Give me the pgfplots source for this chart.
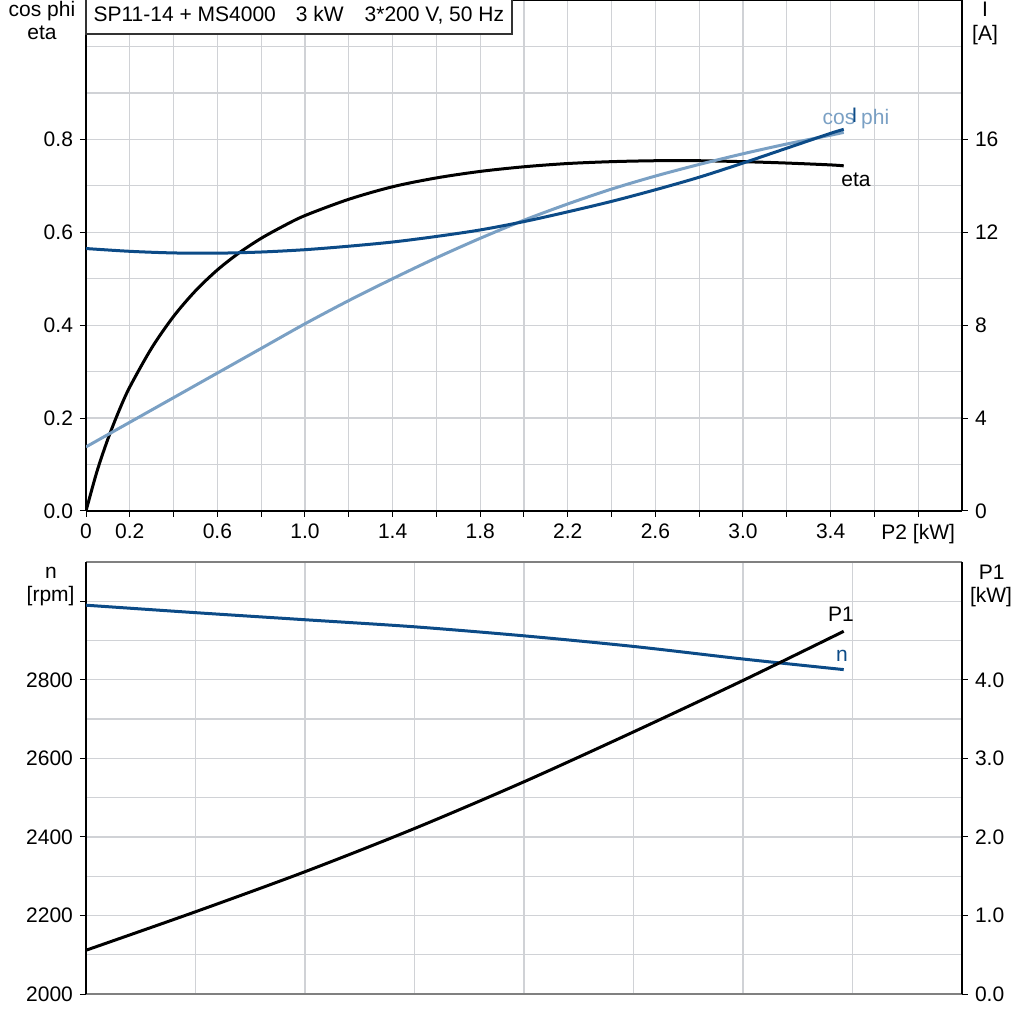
\documentclass[border=0pt]{standalone}
\usepackage{fontspec}
\setmainfont{Liberation Sans}
\usepackage{pgfplots}
\pgfplotsset{compat=1.18}
\definecolor{dblue}{RGB}{12,75,135}
\definecolor{lblue}{RGB}{122,160,196}
\definecolor{gridc}{RGB}{208,210,214}
\definecolor{frameg}{RGB}{128,128,128}
\newcommand{\lf}{\fontsize{10.5}{12}\selectfont}

\pgfplotstableread{
p2 eta
0 0
0.05 0.085
0.1 0.155
0.15 0.215
0.2 0.267
0.3 0.351
0.4 0.419
0.5 0.474
0.6 0.519
0.7 0.556
0.8 0.587
0.9 0.613
1.0 0.636
1.2 0.671
1.4 0.698
1.6 0.717
1.8 0.731
2.0 0.741
2.2 0.748
2.4 0.752
2.6 0.754
2.8 0.754
3.0 0.752
3.2 0.749
3.4 0.745
3.46 0.743
}\etatab

\pgfplotstableread{
p2 cosphi
0 0.138
0.2 0.191
0.4 0.244
0.6 0.297
0.8 0.350
1.0 0.403
1.2 0.453
1.4 0.500
1.6 0.545
1.8 0.587
2.0 0.626
2.2 0.661
2.4 0.693
2.6 0.721
2.8 0.746
3.0 0.769
3.2 0.790
3.4 0.809
3.46 0.815
}\costab

\pgfplotstableread{
p2 I
0 11.30
0.2 11.18
0.4 11.11
0.6 11.10
0.8 11.15
1.0 11.25
1.2 11.40
1.4 11.58
1.6 11.82
1.8 12.10
2.0 12.46
2.2 12.88
2.4 13.33
2.6 13.83
2.8 14.37
3.0 14.98
3.2 15.62
3.4 16.26
3.46 16.43
}\itab

\pgfplotstableread{
p2 n
0 2990
0.5 2971
1.0 2953
1.5 2935
2.0 2912
2.5 2885
3.0 2853
3.46 2826
}\ntab

\pgfplotstableread{
p2 P1
0 0.557
0.5 1.047
1.0 1.557
1.5 2.107
2.0 2.702
2.5 3.337
3.0 3.992
3.46 4.618
}\ptab

\begin{document}
\begin{tikzpicture}
\useasboundingbox (0,0) rectangle (512pt,512pt);
\pgfplotsset{
  common/.style={scale only axis, width=438pt, xmin=0, xmax=4,
    tick label style={font=\lf},
    /pgf/number format/assume math mode=true,
    major tick length=3pt, minor tick length=0pt, tick align=outside,
    tick style={black, line width=0.5pt},
    every outer x axis line/.append style={-},
    every outer y axis line/.append style={-},
  },
  fmt1/.style={yticklabel style={/pgf/number format/fixed, /pgf/number format/fixed zerofill, /pgf/number format/precision=1}},
}
% ---------- top panel ----------
\begin{axis}[common, at={(43pt,256.5pt)}, anchor=south west, height=255.5pt,
  ymin=0, ymax=1.1,
  separate axis lines,
  x axis line style={black, line width=1.3pt},
  y axis line style={black, line width=1.3pt},
  xtick={0,0.2,0.4,0.6,0.8,1.0,1.2,1.4,1.6,1.8,2.0,2.2,2.4,2.6,2.8,3.0,3.2,3.4,3.6,3.8},
  xticklabels={0,0.2,,0.6,,1.0,,1.4,,1.8,,2.2,,2.6,,3.0,,3.4,,P2 [kW]},
  ytick={0,0.2,0.4,0.6,0.8}, fmt1,
  minor ytick={0.1,0.3,0.5,0.7,0.9,1.0},
  grid=both,
  major grid style={gridc, line width=0.6pt},
  minor grid style={gridc, line width=0.6pt},
  xtick pos=bottom, ytick pos=left]
\addplot[black, line width=1.5pt, smooth] table[x=p2, y=eta] {\etatab};
\addplot[lblue, line width=1.5pt, smooth] table[x=p2, y=cosphi] {\costab};
\end{axis}
\begin{axis}[common, at={(43pt,256.5pt)}, anchor=south west, height=255.5pt,
  ymin=0, ymax=22,
  axis x line=none, axis y line*=right,
  y axis line style={-, black, line width=1.3pt},
  ytick={0,4,8,12,16}]
\addplot[dblue, line width=1.5pt, smooth] table[x=p2, y=I] {\itab};
\end{axis}
% ---------- bottom panel ----------
\begin{axis}[common, at={(43pt,15pt)}, anchor=south west, height=216pt,
  ymin=2000, ymax=3100,
  separate axis lines,
  x axis line style={frameg, line width=1.3pt},
  y axis line style={black, line width=1.3pt},
  xtick={0,0.5,1.0,1.5,2.0,2.5,3.0,3.5}, xticklabels={},
  xtick style={draw=none},
  ytick={2000,2200,2400,2600,2800,3000},
  yticklabels={2000,2200,2400,2600,2800,{}},
  minor ytick={2100,2300,2500,2700,2900},
  grid=both,
  major grid style={gridc, line width=0.6pt},
  minor grid style={gridc, line width=0.6pt},
  ytick pos=left]
\addplot[dblue, line width=1.5pt, smooth] table[x=p2, y=n] {\ntab};
\end{axis}
\begin{axis}[common, at={(43pt,15pt)}, anchor=south west, height=216pt,
  ymin=0, ymax=5.5,
  axis x line=none, axis y line*=right,
  y axis line style={-, black, line width=1.3pt},
  ytick={0,1,2,3,4}, fmt1]
\addplot[black, line width=1.5pt, smooth] table[x=p2, y=P1] {\ptab};
\end{axis}
% ---------- title box ----------
\draw[fill=white, draw=black!80, line width=0.6pt] (43pt,495pt) rectangle (256pt,513pt);
\node[anchor=base west, font=\lf, inner sep=0pt] at (46.6pt,501.2pt)
  {SP11-14 + MS4000\hspace{10pt}3 kW\hspace{10.5pt}3*200 V, 50 Hz};
% ---------- axis titles ----------
\begin{scope}[every node/.style={font=\lf, inner sep=0pt, anchor=base}]
\node at (21pt,503.5pt) {cos phi};
\node at (21pt,492pt) {eta};
\node at (492.5pt,503.5pt) {I};
\node at (492.5pt,491.5pt) {[A]};
\node at (25.5pt,222.5pt) {n};
\node at (25.3pt,211pt) {[rpm]};
\node at (495.8pt,222.3pt) {P1};
\node at (495.5pt,210.5pt) {[kW]};
% curve labels
\node[text=lblue] at (428pt,449.9pt) {cos phi};
\node[text=dblue] at (427.3pt,450.5pt) {I};
\node at (428pt,418.7pt) {eta};
\node at (420.5pt,201.2pt) {P1};
\node[text=dblue] at (421pt,181.2pt) {n};
\end{scope}
\end{tikzpicture}
\end{document}
